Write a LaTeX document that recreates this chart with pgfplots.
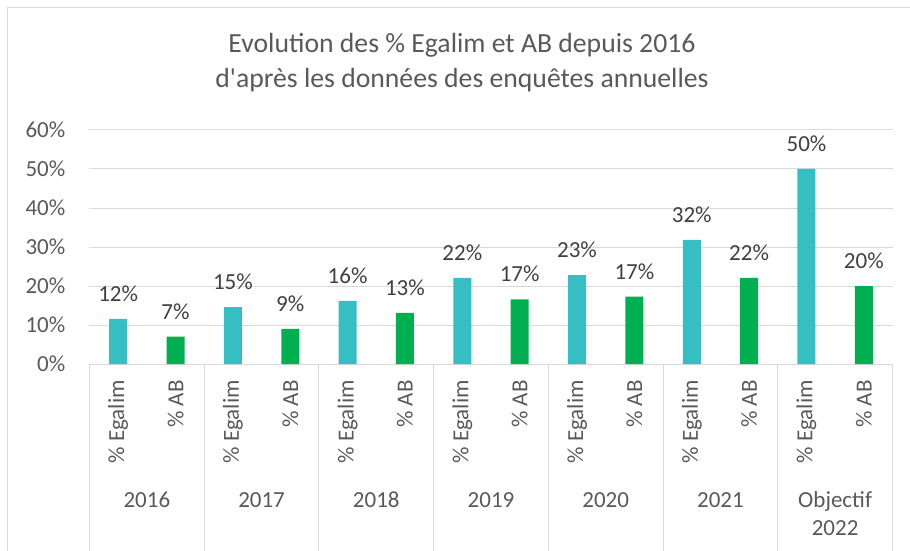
\documentclass[border=0pt]{standalone}
\usepackage{pgfplots}
\pgfplotsset{compat=1.18}
\usepackage{fontspec}
\setmainfont{Carlito}[Ligatures=TeXOff]
\definecolor{egalim}{RGB}{54,191,194}
\definecolor{ab}{RGB}{0,176,80}
\definecolor{txt}{RGB}{89,89,89}
\definecolor{lab}{RGB}{64,64,64}
\definecolor{gridc}{RGB}{217,217,217}
\newcommand{\lf}{\fontsize{23}{27}\selectfont}
\begin{document}
\begin{tikzpicture}
\useasboundingbox (-89.5pt,-187pt) rectangle (820.5pt,364pt);
\draw[gridc, line width=1pt] (-81.5pt,-220pt) -- (-81.5pt,356pt) -- (850pt,356pt);
\begin{axis}[
  at={(0pt,0pt)}, anchor=south west,
  scale only axis, width=803pt, height=234pt,
  xmin=-0.5, xmax=13.5, ymin=0, ymax=60,
  xtick={0,...,13},
  xticklabels={\% Egalim,\% AB,\% Egalim,\% AB,\% Egalim,\% AB,\% Egalim,\% AB,\% Egalim,\% AB,\% Egalim,\% AB,\% Egalim,\% AB},
  ytick={0,10,...,60},
  yticklabel={\pgfmathprintnumber{\tick}\%},
  /pgf/number format/assume math mode=true,
  major tick length=0pt,
  ymajorgrids, grid style={gridc, line width=1pt},
  axis x line*=bottom, axis y line*=left,
  x axis line style={gridc, line width=1pt},
  y axis line style={draw=none},
  xticklabel style={rotate=90, anchor=east, inner sep=0pt, font=\lf, text=txt},
  xticklabel shift=16pt,
  yticklabel style={anchor=east, inner sep=0pt, font=\lf, text=txt},
  yticklabel shift=24pt,
  clip=false,
  bar width=18pt,
  nodes near coords={\pgfmathprintnumber[fixed,precision=0]{\pgfplotspointmeta}\%},
  nodes near coords style={anchor=base, yshift=17.5pt, inner sep=0pt, font=\lf, text=lab},
]
\addplot[ybar, bar shift=0pt, fill=egalim, draw=none] coordinates {
  (0,11.6) (2,14.6) (4,16.2) (6,22.1) (8,22.8) (10,31.8) (12,50)
};
\addplot[ybar, bar shift=0pt, fill=ab, draw=none] coordinates {
  (1,7.0) (3,9.0) (5,13.1) (7,16.6) (9,17.3) (11,22.1) (13,20)
};
\draw[gridc, line width=1pt] (axis cs:-0.5,0) -- ++(0pt,-200pt);
\draw[gridc, line width=1pt] (axis cs:1.5,0) -- ++(0pt,-200pt);
\draw[gridc, line width=1pt] (axis cs:3.5,0) -- ++(0pt,-200pt);
\draw[gridc, line width=1pt] (axis cs:5.5,0) -- ++(0pt,-200pt);
\draw[gridc, line width=1pt] (axis cs:7.5,0) -- ++(0pt,-200pt);
\draw[gridc, line width=1pt] (axis cs:9.5,0) -- ++(0pt,-200pt);
\draw[gridc, line width=1pt] (axis cs:11.5,0) -- ++(0pt,-200pt);
\draw[gridc, line width=1pt] (axis cs:13.5,0) -- ++(0pt,-200pt);
\node[anchor=base, font=\lf, text=txt, yshift=-143pt] at (axis cs:0.5,0) {2016};
\node[anchor=base, font=\lf, text=txt, yshift=-143pt] at (axis cs:2.5,0) {2017};
\node[anchor=base, font=\lf, text=txt, yshift=-143pt] at (axis cs:4.5,0) {2018};
\node[anchor=base, font=\lf, text=txt, yshift=-143pt] at (axis cs:6.5,0) {2019};
\node[anchor=base, font=\lf, text=txt, yshift=-143pt] at (axis cs:8.5,0) {2020};
\node[anchor=base, font=\lf, text=txt, yshift=-143pt] at (axis cs:10.5,0) {2021};
\node[anchor=base, font=\lf, text=txt, yshift=-143pt] at (axis cs:12.5,0) {Objectif};
\node[anchor=base, font=\lf, text=txt, yshift=-171.5pt] at (axis cs:12.5,0) {2022};
\end{axis}
\node[anchor=base, font=\fontsize{27.7}{32}\selectfont, text=txt] at (372.5pt,311pt) {Evolution des \% Egalim et AB depuis 2016};
\node[anchor=base, font=\fontsize{27.7}{32}\selectfont, text=txt] at (372.5pt,276pt) {d'après les données des enquêtes annuelles};
\end{tikzpicture}
\end{document}
